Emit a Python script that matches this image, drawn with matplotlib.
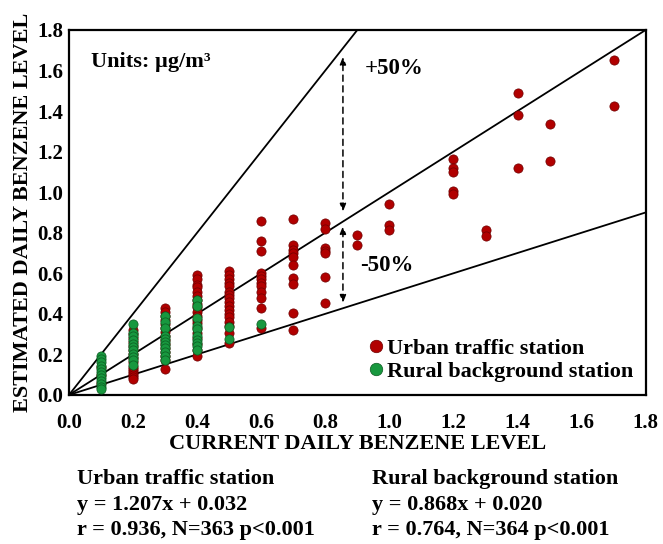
import numpy as np
import matplotlib
matplotlib.use("Agg")
import matplotlib.pyplot as plt
from matplotlib.lines import Line2D

plt.rcParams["font.family"] = ["Liberation Serif", "DejaVu Serif"]
plt.rcParams["font.weight"] = "bold"
plt.rcParams["axes.labelweight"] = "bold"

# current level (x) -> estimated levels (y), urban traffic station
urban_levels = [0.1, 0.2, 0.3, 0.4, 0.5, 0.6, 0.7, 0.8, 0.9, 1.0, 1.2, 1.3, 1.4, 1.5, 1.7]
urban_est = [
    [0.06, 0.10, 0.14],
    [0.32, 0.30, 0.28, 0.26, 0.24, 0.22, 0.20, 0.18, 0.16, 0.14, 0.13, 0.12, 0.11, 0.10, 0.09, 0.08],
    [0.43, 0.41, 0.39, 0.37, 0.35, 0.33, 0.31, 0.29, 0.27, 0.25, 0.23, 0.21, 0.19, 0.17, 0.13],
    [0.59, 0.57, 0.54, 0.53, 0.51, 0.49, 0.47, 0.45, 0.435, 0.41, 0.39, 0.37, 0.355, 0.33, 0.305,
     0.28, 0.25, 0.22, 0.19],
    [0.61, 0.59, 0.57, 0.55, 0.535, 0.51, 0.495, 0.48, 0.46, 0.44, 0.42, 0.40, 0.385, 0.36, 0.34,
     0.305, 0.255],
    [0.86, 0.76, 0.71, 0.60, 0.585, 0.57, 0.55, 0.535, 0.51, 0.48, 0.43, 0.33],
    [0.866, 0.74, 0.715, 0.70, 0.68, 0.64, 0.575, 0.545, 0.405, 0.32],
    [0.85, 0.82, 0.725, 0.71, 0.70, 0.58, 0.455],
    [0.79, 0.74],
    [0.94, 0.84, 0.815],
    [1.165, 1.12, 1.10, 1.005, 0.99],
    [0.815, 0.785],
    [1.49, 1.38, 1.12],
    [1.335, 1.155],
    [1.65, 1.425],
]

# rural background station
rural_levels = [0.1, 0.2, 0.3, 0.4, 0.5, 0.6]
rural_est = [
    [0.19, 0.175, 0.16, 0.145, 0.13, 0.115, 0.10, 0.085, 0.07, 0.055, 0.04, 0.03],
    [0.35, 0.305, 0.29, 0.27, 0.25, 0.235, 0.22, 0.20, 0.185, 0.17, 0.15],
    [0.39, 0.36, 0.33, 0.29, 0.275, 0.26, 0.245, 0.23, 0.21, 0.19, 0.17],
    [0.47, 0.44, 0.38, 0.34, 0.325, 0.29, 0.27, 0.255, 0.24, 0.22],
    [0.335, 0.275],
    [0.35],
]

ref_slopes = [2.0, 1.0, 0.5]

ux, uy = [], []
for lev, vals in zip(urban_levels, urban_est):
    ux += [lev] * len(vals)
    uy += vals
rx, ry = [], []
for lev, vals in zip(rural_levels, rural_est):
    rx += [lev] * len(vals)
    ry += vals

red = "#B10000"
green = "#18983F"

fig = plt.figure(figsize=(6.63, 5.44), dpi=100)
ax = fig.add_axes([0.104, 0.274, 0.87, 0.671])

xs = np.array([0, 1.8])
for k in ref_slopes:
    ax.plot(xs, k * xs, color="black", lw=1.3, zorder=1)

ax.scatter(ux, uy, s=44, color=red, edgecolor="#6e0000", linewidth=0.5, zorder=2)
ax.scatter(rx, ry, s=44, color=green, edgecolor="#0b5a20", linewidth=0.5, zorder=3)

arrow = dict(arrowstyle="<|-|>,head_length=0.45,head_width=0.18", color="black",
             lw=1.1, linestyle=(0, (4, 3)), shrinkA=0, shrinkB=0)
ax.annotate("", xy=(0.855, 1.668), xytext=(0.855, 0.904), arrowprops=arrow)
ax.annotate("", xy=(0.855, 0.833), xytext=(0.855, 0.454), arrowprops=arrow)
ax.text(0.923, 1.61, "+50%", fontsize=16.5, va="center", ha="left")
ax.text(0.908, 0.636, "-50%", fontsize=16.5, va="center", ha="left")
ax.text(0.07, 1.64, "Units: µg/m³", fontsize=16, va="center", ha="left")

ax.set_xlim(0, 1.8)
ax.set_ylim(0, 1.8)
ticks = np.arange(0, 1.81, 0.2)
ax.set_xticks(ticks)
ax.set_yticks(ticks)
ax.set_xticklabels([f"{t:.1f}" for t in ticks])
ax.set_yticklabels([f"{t:.1f}" for t in ticks])
ax.tick_params(length=0, labelsize=15)
ax.tick_params(axis="x", pad=13)
ax.tick_params(axis="y", pad=4)
for sp in ax.spines.values():
    sp.set_linewidth(1.6)

ax.set_xlabel("CURRENT DAILY BENZENE LEVEL", fontsize=16, labelpad=1)
ax.set_ylabel("ESTIMATED DAILY BENZENE LEVEL", fontsize=16, labelpad=3)

handles = [
    Line2D([], [], marker="o", ls="", markersize=9, markerfacecolor=red, markeredgecolor="#6e0000",
           markeredgewidth=0.5, label="Urban traffic station"),
    Line2D([], [], marker="o", ls="", markersize=9, markerfacecolor=green, markeredgecolor="#0b5a20",
           markeredgewidth=0.5, label="Rural background station"),
]
fig.legend(handles=handles, loc="lower right", bbox_to_anchor=(633 / 663, 1 - 382 / 544),
           frameon=False, fontsize=16, handlelength=0.6, handletextpad=0.2,
           labelspacing=0.1, borderpad=0, borderaxespad=0)

fig.text(77 / 663, 1 - 479 / 544, "Urban traffic station", fontsize=16, va="center")
fig.text(77 / 663, 1 - 505 / 544, "y = 1.207x + 0.032", fontsize=16, va="center")
fig.text(77 / 663, 1 - 530 / 544, "r = 0.936, N=363 p<0.001", fontsize=16, va="center")
fig.text(372 / 663, 1 - 479 / 544, "Rural background station", fontsize=16, va="center")
fig.text(372 / 663, 1 - 505 / 544, "y = 0.868x + 0.020", fontsize=16, va="center")
fig.text(372 / 663, 1 - 530 / 544, "r = 0.764, N=364 p<0.001", fontsize=16, va="center")

fig.savefig("out.png", dpi=100)
